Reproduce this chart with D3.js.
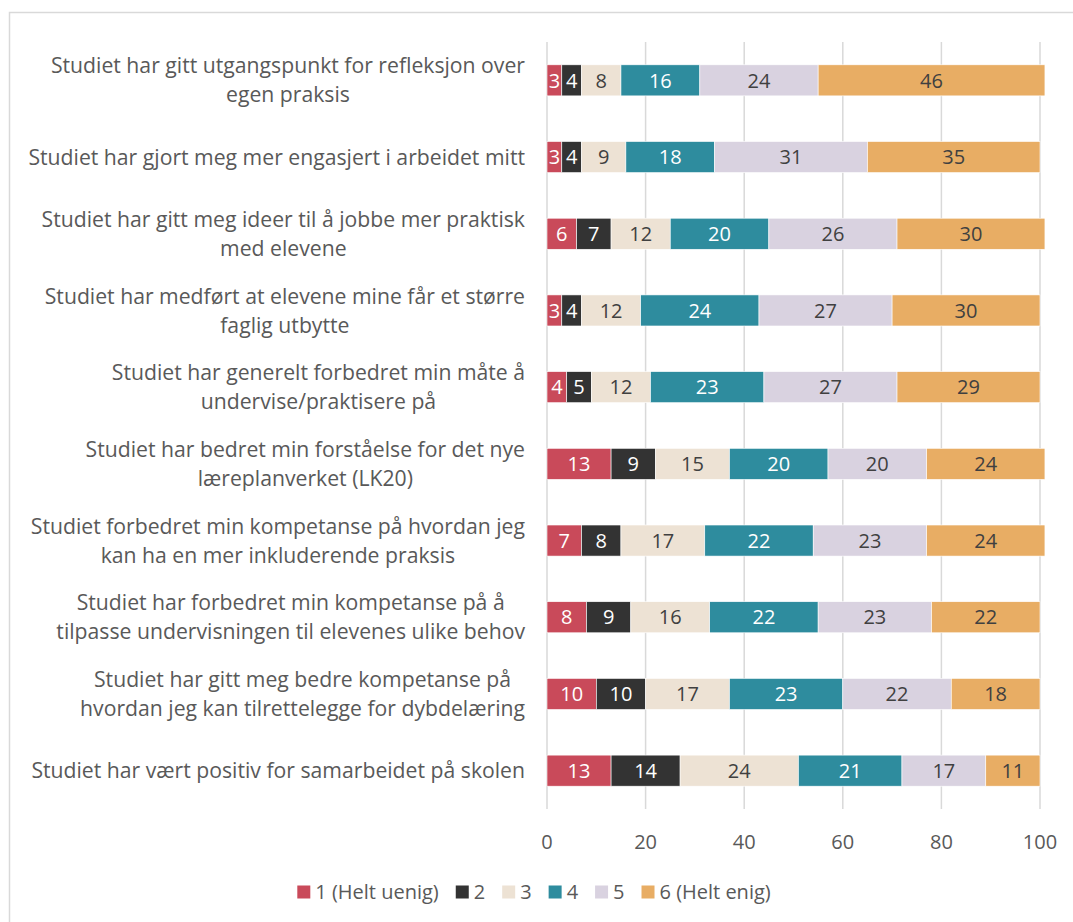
<!DOCTYPE html>
<html>
<head>
<meta charset="utf-8">
<script src="https://cdn.jsdelivr.net/npm/d3@7"></script>
<style>
  html, body { margin: 0; padding: 0; background: #ffffff; }
  svg { display: block; }
  text { font-family: "Open Sans", Lato, sans-serif; }
</style>
</head>
<body>
<svg id="chart" width="1073" height="922"></svg>
<script>
// Statements, each split into the lines it is shown on
const statements = [
  ["Studiet har gitt utgangspunkt for refleksjon over", "egen praksis"],
  ["Studiet har gjort meg mer engasjert i arbeidet mitt"],
  ["Studiet har gitt meg ideer til å jobbe mer praktisk", "med elevene"],
  ["Studiet har medført at elevene mine får et større", "faglig utbytte"],
  ["Studiet har generelt forbedret min måte å", "undervise/praktisere på"],
  ["Studiet har bedret min forståelse for det nye", "læreplanverket (LK20)"],
  ["Studiet forbedret min kompetanse på hvordan jeg", "kan ha en mer inkluderende praksis"],
  ["Studiet har forbedret min kompetanse på å", "tilpasse undervisningen til elevenes ulike behov"],
  ["Studiet har gitt meg bedre kompetanse på", "hvordan jeg kan tilrettelegge for dybdelæring"],
  ["Studiet har vært positiv for samarbeidet på skolen"]
];

// Response categories (scale 1–6)
const seriesNames = ["1 (Helt uenig)", "2", "3", "4", "5", "6 (Helt enig)"];

// Percent per response, one array per response category, in statement order
const resp1 = [3, 3, 6, 3, 4, 13, 7, 8, 10, 13];
const resp2 = [4, 4, 7, 4, 5, 9, 8, 9, 10, 14];
const resp3 = [8, 9, 12, 12, 12, 15, 17, 16, 17, 24];
const resp4 = [16, 18, 20, 24, 23, 20, 22, 22, 23, 21];
const resp5 = [24, 31, 26, 27, 27, 20, 23, 23, 22, 17];
const resp6 = [46, 35, 30, 30, 29, 24, 24, 22, 18, 11];

const xTicks = [0, 20, 40, 60, 80, 100];

const seriesValues = [resp1, resp2, resp3, resp4, resp5, resp6];
const colors = ["#C94A5A", "#333333", "#EDE2D4", "#2E8C9E", "#D9D2E0", "#E8AD64"];
const labelColors = ["#ffffff", "#ffffff", "#404040", "#ffffff", "#404040", "#404040"];

const svg = d3.select("#chart");

// outer chart frame
svg.append("rect")
  .attr("x", 9.5).attr("y", 12.5)
  .attr("width", 1200).attr("height", 1000)
  .attr("fill", "#ffffff")
  .attr("stroke", "#d9d9d9").attr("stroke-width", 1.5);

const plot = { left: 547, right: 1040, top: 42, bottom: 809 };

const x = d3.scaleLinear().domain([0, 100]).range([plot.left, plot.right]);
const y = d3.scaleBand()
  .domain(d3.range(statements.length))
  .range([plot.top, plot.bottom])
  .paddingInner(0.595)
  .paddingOuter(0.2975);

// rows for stacking
const rows = statements.map((s, i) => {
  const r = { idx: i };
  seriesNames.forEach((n, k) => { r[k] = seriesValues[k][i]; });
  return r;
});
const stack = d3.stack().keys(d3.range(seriesNames.length));
const layers = stack(rows);

// vertical gridlines
svg.append("g")
  .selectAll("line")
  .data(xTicks)
  .join("line")
  .attr("x1", d => x(d)).attr("x2", d => x(d))
  .attr("y1", plot.top).attr("y2", plot.bottom)
  .attr("stroke", "#d9d9d9").attr("stroke-width", 1.5);

// bars
const layerG = svg.append("g")
  .selectAll("g")
  .data(layers)
  .join("g")
  .attr("fill", (d, k) => colors[k]);

layerG.selectAll("rect")
  .data(d => d)
  .join("rect")
  .attr("x", d => x(d[0]))
  .attr("width", d => x(d[1]) - x(d[0]))
  .attr("y", d => y(d.data.idx))
  .attr("height", y.bandwidth())
  .attr("stroke", "#ffffff").attr("stroke-width", 0.6);

// value labels
layerG.each(function (layer, k) {
  d3.select(this).selectAll("text")
    .data(layer)
    .join("text")
    .attr("x", d => (x(d[0]) + x(d[1])) / 2)
    .attr("y", d => y(d.data.idx) + y.bandwidth() / 2)
    .attr("dy", "0.36em")
    .attr("text-anchor", "middle")
    .attr("font-size", 20)
    .attr("fill", labelColors[k])
    .text(d => d[1] - d[0]);
});

// category labels, each block centred and right-aligned next to the plot
const catG = svg.append("g").attr("fill", "#595959");
const lineGap = 29;
const labelRight = 525;
const widestTarget = 497;
const blocks = statements.map((lines, i) => {
  const g = catG.append("g");
  const cy = y(i) + y.bandwidth() / 2;
  const texts = lines.map((ln, j) => g.append("text")
    .attr("y", cy + (j - (lines.length - 1) / 2) * lineGap)
    .attr("dy", "0.36em")
    .attr("text-anchor", "middle")
    .attr("font-size", 20)
    .text(ln));
  return texts;
});
// size the labels so the longest line fills the space left of the plot
const widest = d3.max(blocks.flat(), t => t.node().getComputedTextLength());
const catSize = 20 * widestTarget / widest;
blocks.forEach(texts => {
  texts.forEach(t => t.attr("font-size", catSize));
  const maxW = d3.max(texts, t => t.node().getComputedTextLength());
  texts.forEach(t => t.attr("x", labelRight - maxW / 2));
});

// x axis labels
svg.append("g")
  .selectAll("text")
  .data(xTicks)
  .join("text")
  .attr("x", d => x(d))
  .attr("y", 842)
  .attr("dy", "0.36em")
  .attr("text-anchor", "middle")
  .attr("font-size", 20)
  .attr("fill", "#595959")
  .text(d => d);

// legend
const legend = svg.append("g");
let lx = 0;
const legendGap = 17;
seriesNames.forEach((n, k) => {
  const g = legend.append("g");
  g.append("rect")
    .attr("x", 0).attr("y", -6.5)
    .attr("width", 13).attr("height", 13)
    .attr("fill", colors[k]);
  const t = g.append("text")
    .attr("x", 18).attr("dy", "0.36em")
    .attr("font-size", 20)
    .attr("fill", "#595959")
    .text(n);
  const w = 18 + t.node().getComputedTextLength();
  g.attr("transform", `translate(${lx},0)`);
  lx += w + legendGap;
});
const legendW = lx - legendGap;
legend.attr("transform", `translate(${534 - legendW / 2},892)`);
</script>
</body>
</html>
